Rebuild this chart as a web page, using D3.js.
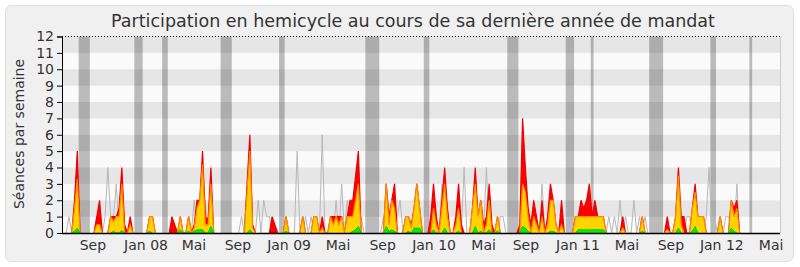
<!DOCTYPE html>
<html><head><meta charset="utf-8">
<script src="https://cdn.jsdelivr.net/npm/d3@7"></script>
<style>body{margin:0;background:#fff}</style>
</head><body><svg id="c" width="800" height="267"></svg>
<script>
// weekly values, week index 0..257
const presence = [
0,0,0,0,2,5,0,0,0,0,
0,0,1,2,0,0,0,1,1,1,
1.5,4,0.5,0,1,0,0,0,0,0,
0,1,1,0,0,0,0,0,0,1,
0.5,0,1,0,0,1,0,0.5,2,2,
5,1,0.8,4,0,0,0,0,0,0,
0,0,0,0,0,0,3,6,0.5,0,
0,0,0,0,0,1,0.5,0,0,0,
1,0,0,0,0,0,1,0,0,0,
1,1,0,1,0,0,1,1,1,1,
1,0,1,2,2,3.5,5,0,0,0,
0,0,0,0,0,0,3,1,2,3,
0,0,0,1,1,0.5,1.5,3,1.5,0,
0,0,1,3,1,0,2,4,1.5,0,
0,1,3,0.5,0,0,0,1.5,4,1,
2,0.5,1,3,0.5,0,1,0,0,0,
0,0,0,0,0.5,7,4,1.5,0.5,2,
1,0,2,0,1,3,2,0.5,0,2,
0,0,0,0,1,1,2,1.5,2,3,
1,2,1,1,1,0,0,0,0,0,
0,1,0,0,0,0,0,0,1,0,
0,0,0,0,0,0,0,1,0,0,
1,4,1,1,0,0,1.5,3,1,1,
1,0,0,0,0,0,1,0,0,0,
2,1.5,2,0,0,0,0,0,0,0,
0,0,0,0,0,0,0,0];
const participation = [
0,0,0,0,1.5,3.3,0,0,0,0,
0,0,0.5,0.5,0,0,0,1,0.7,1,
1,3,0,0,0.5,0,0,0,0,0,
0,1,1,0,0,0,0,0,0,0,
0,0,1,0,0,1,0,0.3,1.5,2,
4.2,0.5,0.5,3,0,0,0,0,0,0,
0,0,0,0,0,0,2.5,5,0.3,0,
0,0,0,0,0,0,0,0,0,0,
1,0,0,0,0,0,1,0,0,0,
1,1,0,0.3,0,0,1,0.5,1,0.5,
1,0,1,1,1,2,3,0,0,0,
0,0,0,0,0,0,3,0.5,2,1.5,
0,0,0,1,1,0.3,1.5,3,1.5,0,
0,0,0,1.5,0.5,0,1.5,3,1,0,
0,0.5,1.5,0,0,0,0,1.5,3,1,
2,0,0.5,2,0,0,1,0,0,0,
0,0,0,0,0,3,2.5,1,0,1,
0.5,0,1,0,0.5,2,2,0.5,0,0.5,
0,0,0,0,1,1,1,1,1,1,
1,1,1,1,1,0,0,0,0,0,
0,0.3,0,0,0,0,0,0,1,0,
0,0,0,0,0,0,0,0.2,0,0,
1,3.5,0.5,0,0,0,1.5,2.5,1,1,
1,0,0,0,0,0,1,0,0,0,
2,1,1.5,0,0,0,0,0,0,0,
0,0,0,0,0,0,0,0];
const interventions = [
0,0,0,0,0.1,0.3,0,0,0,0,
0,0,0,0,0,0,0,0,0.1,0,
0,0.15,0,0,0,0,0,0,0,0,
0,0.1,0,0,0,0,0,0,0,0,
0,0,0.2,0,0,0.1,0,0.1,0.2,0.2,
0.2,0,0,0.4,0,0,0,0,0,0,
0,0,0,0,0,0,0,0.2,0,0,
0,0,0,0,0,0,0,0,0,0,
0.1,0,0,0,0,0,0,0,0,0,
0,0,0,0,0,0,0,0,0,0,
0,0,0,0,0.1,0.2,0.4,0,0,0,
0,0,0,0,0,0,0.4,0.1,0.2,0.1,
0,0,0,0,0.1,0,0.3,0.3,0.3,0,
0,0,0,0.2,0,0,0,0.3,0,0,
0,0,0.1,0,0,0,0,0,0.4,0,
0.1,0,0,0.2,0,0,0.1,0,0,0,
0,0,0,0,0,0.4,0.3,0.1,0,0,
0,0,0,0,0,0.1,0.1,0,0,0,
0,0,0,0,0,0.2,0.2,0.2,0.2,0.2,
0.2,0.2,0.2,0.2,0.2,0,0,0,0,0,
0,0,0,0,0,0,0,0,0.1,0,
0,0,0,0,0,0,0,0,0,0,
0,0.3,0,0,0,0,0.1,0.4,0,0,
0,0,0,0,0,0,0,0,0,0,
0.3,0.1,0,0,0,0,0,0,0,0,
0,0,0,0,0,0,0,0];
const moyenne = [
0,0,1,0,0,0,0,0,0,0,
0,0,1,0,0,1,4,1,1,3,
0,0,0,0,0,0,0,0,0,0,
0,1,0,0,0,0,0,0,0,0,
0,0,0,0,0,0,0,2,0,0,
0,2,0,0,0,0,0,0,0,0,
0,0,0,0,1,0,0,0,0,0,
2,0,2,1,1,0,0,0,0,0,
0,0,0,0,5,0,0,1,0,1,
0,0,0,6,0,0,0,0,2,0,
3,0,2,0,0,0,0,1,0,0,
0,0,0,0,0,1,0,0,0,0,
1,2,0,0,0,0,0,0,0,0,
0,0,0,0,0,0,3,0,0,0,
0,0,0,0,4,0,0,0,0,0,
0,0,4,0,0,0,0,1,1,0,
0,0,0,0,0,0,0,0,0,0,
0,0,3,0,0,0,0,0,0,0,
0,0,0,0,0,0,0,0,0,0,
0,0,0,0,0,0,1,0,1,0,
2,0,1,0,0,2,0,1,0,1,
0,0,0,0,0,0,0,0,0,0,
0,0,0,0,1,1,0,0,0,0,
0,1,4,0,1,0,0,0,1,1,
0,0,3,0,0,0,0,0,0,0,
0,0,0,0,0,0,0,0];
// vacation weeks [first, last]
const vacances = [[6,9],[26,28],[36,37],[57,60],[78,79],[109,113],[130,131],[160,163],[181,183],[190,190],[211,215],[233,234],[247,247]];
const tickWeeks = [10.6,29.7,46.9,62.7,81.1,98.7,114.7,133.2,151,166.2,184.9,202.5,218.3,236.6,254.3];
const tickLabels = ["Sep","Jan 08","Mai","Sep","Jan 09","Mai","Sep","Jan 10","Mai","Sep","Jan 11","Mai","Sep","Jan 12","Mai"];
const yTicks = [0,1,2,3,4,5,6,7,8,9,10,11,12];

const svg = d3.select("#c");
const L = 62, R = 780, T = 36.5, B = 233;
const N = presence.length;
const x = d3.scaleLinear().domain([-0.5, N - 0.5]).range([L, R]);
const y = d3.scaleLinear().domain([0, 12]).range([B, T]);
const font = "DejaVu Sans, Verdana, sans-serif";

svg.append("rect").attr("x",5.5).attr("y",5.5).attr("width",788).attr("height",256)
  .attr("rx",6).attr("fill","#f0f0f0").attr("stroke","#dedede");

// stripes
svg.append("g").selectAll("rect").data(d3.range(12)).join("rect")
  .attr("x",L).attr("width",R-L)
  .attr("y",d=>y(d+1)).attr("height",d=>y(d)-y(d+1))
  .attr("fill",d=> d%2===1 ? "#e6e6e6" : "#fafafa");

// vacations
svg.append("g").selectAll("rect").data(vacances).join("rect")
  .attr("x",d=>x(d[0]-0.5)).attr("width",d=>x(d[1]+0.5)-x(d[0]-0.5))
  .attr("y",T).attr("height",B-T).attr("fill","rgba(0,0,0,0.25)");

const idx = d3.range(N);
const nz = arr => i => arr[i] > 0 || (i > 0 && arr[i-1] > 0) || (i < N-1 && arr[i+1] > 0);
const lineOf = arr => d3.line().defined(nz(arr)).x(i=>x(i)).y(i=>y(arr[i]))(idx);
const areaOf = arr => d3.area().x(i=>x(i)).y0(B).y1(i=>y(arr[i]))(idx);

svg.append("path").attr("d",lineOf(moyenne)).attr("fill","none").attr("stroke","#b8b8b8").attr("stroke-width",1);

svg.append("path").attr("d",areaOf(presence)).attr("fill","#ff0000");
svg.append("path").attr("d",lineOf(presence)).attr("fill","none").attr("stroke","#f00000").attr("stroke-width",1.2);
svg.append("path").attr("d",areaOf(participation)).attr("fill","#ffd200");
svg.append("path").attr("d",lineOf(participation)).attr("fill","none").attr("stroke","#ff8a00").attr("stroke-width",1.2);
svg.append("path").attr("d",areaOf(interventions)).attr("fill","#00ee00");
svg.append("path").attr("d",lineOf(interventions)).attr("fill","none").attr("stroke","#00d000").attr("stroke-width",1);

// top dotted line
svg.append("line").attr("x1",L).attr("x2",R).attr("y1",T).attr("y2",T)
  .attr("stroke","#000").attr("stroke-dasharray","1,2").attr("stroke-width",1);
// right border
svg.append("line").attr("x1",R+0.5).attr("x2",R+0.5).attr("y1",T).attr("y2",B)
  .attr("stroke","#cccccc");

// y axis
const ya = svg.append("g").attr("transform",`translate(${L},0)`)
  .call(d3.axisLeft(y).tickValues(yTicks).tickSize(5).tickPadding(3).tickFormat(d3.format("d")));
ya.select(".domain").attr("stroke","#000");
ya.selectAll(".tick line").attr("stroke","#000");
ya.selectAll("text").attr("font-family",font).attr("font-size",14).attr("fill","#333");

// x axis
svg.append("line").attr("x1",L).attr("x2",R).attr("y1",B+0.5).attr("y2",B+0.5).attr("stroke","#000").attr("stroke-width",1.5);
svg.append("g").selectAll("text").data(tickWeeks).join("text")
  .attr("x",d=>x(d)).attr("y",249.5).attr("text-anchor","middle")
  .attr("font-family",font).attr("font-size",14).attr("fill","#333")
  .text((d,i)=>tickLabels[i]);

svg.append("text").attr("x",413).attr("y",27).attr("text-anchor","middle")
  .attr("font-family",font).attr("font-size",17.5).attr("fill","#333")
  .text("Participation en hemicycle au cours de sa dernière année de mandat");

svg.append("text").attr("transform","translate(24,134) rotate(-90)").attr("text-anchor","middle")
  .attr("font-family",font).attr("font-size",14).attr("fill","#333")
  .text("Séances par semaine");
</script></body></html>
